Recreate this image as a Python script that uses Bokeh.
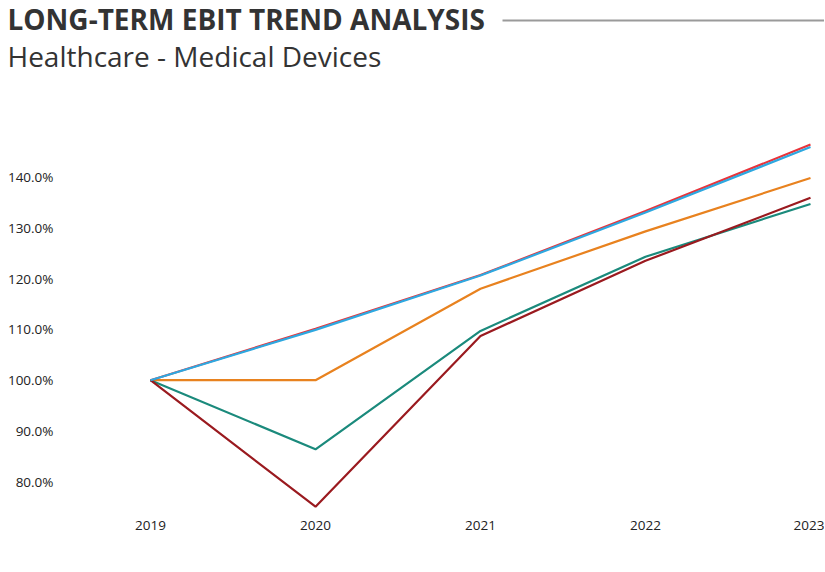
from bokeh.plotting import figure
from bokeh.models import Range1d, FixedTicker, NumeralTickFormatter
from bokeh.core.properties import value
from bokeh.embed import file_html
from bokeh.resources import INLINE

title_text = "LONG-TERM EBIT TREND ANALYSIS"
subtitle_text = "Healthcare - Medical Devices"

years = [2019, 2020, 2021, 2022, 2023]
series_red = [1.000, 1.101, 1.207, 1.333, 1.464]
series_blue = [1.000, 1.099, 1.206, 1.330, 1.459]
series_orange = [1.000, 1.000, 1.180, 1.293, 1.398]
series_teal = [1.000, 0.864, 1.097, 1.243, 1.347]
series_darkred = [1.000, 0.751, 1.087, 1.235, 1.359]
y_ticks = [0.8, 0.9, 1.0, 1.1, 1.2, 1.3, 1.4]

W, H = 824, 571
BORDER_LEFT, BORDER_TOP, BORDER_BOTTOM = 61, 99, 63
PX_PER_YEAR = 165.0
X0 = 2019 - (150 - BORDER_LEFT) / PX_PER_YEAR
X1 = X0 + (W - BORDER_LEFT) / PX_PER_YEAR
Y0, Y1 = 0.7474, 1.5526

p = figure(width=W, height=H, output_backend="svg", toolbar_location=None,
           x_range=Range1d(X0, X1), y_range=Range1d(Y0, Y1),
           min_border_left=BORDER_LEFT, min_border_right=0, min_border_top=BORDER_TOP,
           min_border_bottom=BORDER_BOTTOM, outline_line_color=None)
p.grid.visible = False

colors = {"red": "#e8343b", "blue": "#2ea8e0", "orange": "#e8821f",
          "teal": "#1b8a7c", "darkred": "#9a1a1f"}
for ys, c in [(series_orange, colors["orange"]), (series_teal, colors["teal"]),
              (series_darkred, colors["darkred"]), (series_red, colors["red"]),
              (series_blue, colors["blue"])]:
    p.line(years, ys, line_color=c, line_width=2.2)

p.yaxis.ticker = FixedTicker(ticks=y_ticks)
p.yaxis.formatter = NumeralTickFormatter(format="0.0%")
p.xaxis.ticker = FixedTicker(ticks=years)
for ax in [p.xaxis, p.yaxis]:
    ax.axis_line_color = None
    ax.major_tick_line_color = None
    ax.minor_tick_line_color = None
    ax.major_label_text_font = "Open Sans"
    ax.major_label_text_font_size = "13.5px"
    ax.major_label_text_color = "#222222"
p.yaxis.major_label_standoff = 2
p.xaxis.major_label_standoff = 6

# header placement: canvas pixel positions converted to data space via the ranges
frame_h = H - BORDER_TOP - BORDER_BOTTOM
px_y = (Y1 - Y0) / frame_h

def dx(px):
    return X0 + (px - BORDER_LEFT) / PX_PER_YEAR

def dy(py):
    return Y1 + (BORDER_TOP - py) * px_y

p.text(x=[dx(7)], y=[dy(18)], text=[title_text],
       text_font=value("Open Sans"), text_font_style="bold", text_font_size="28px",
       text_color="#333333", text_baseline="alphabetic", text_align="left", level="overlay")
p.text(x=[dx(7)], y=[dy(55)], text=[subtitle_text],
       text_font=value("Open Sans"), text_font_size="28px",
       text_color="#333333", text_baseline="alphabetic", text_align="left", level="overlay")
p.segment(x0=[dx(502)], y0=[dy(20)], x1=[dx(W + 10)], y1=[dy(20)],
          line_color="#9a9a9a", line_width=2, level="overlay")

open("out.html", "w").write(file_html(p, INLINE))
